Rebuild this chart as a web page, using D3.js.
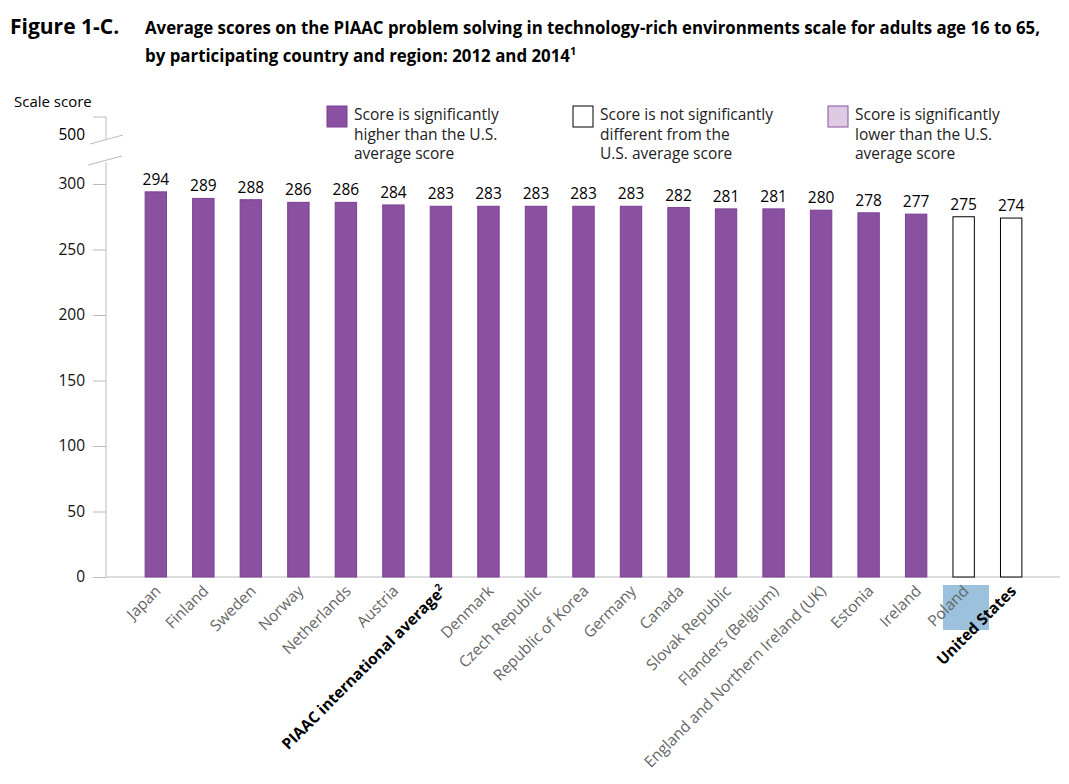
<!DOCTYPE html>
<html><head><meta charset="utf-8">
<script src="https://cdn.jsdelivr.net/npm/d3@7"></script>
<style>body{margin:0;background:#fff;font-family:"Open Sans",sans-serif;}</style>
</head><body>
<script>
// data
var countries = ["Japan","Finland","Sweden","Norway","Netherlands","Austria","PIAAC international average","Denmark","Czech Republic","Republic of Korea","Germany","Canada","Slovak Republic","Flanders (Belgium)","England and Northern Ireland (UK)","Estonia","Ireland","Poland","United States"];
var scores = [294,289,288,286,286,284,283,283,283,283,283,282,281,281,280,278,277,275,274];
// H = significantly higher, N = not significantly different
var significance = ["H","H","H","H","H","H","H","H","H","H","H","H","H","H","H","H","H","N","N"];
var yTicks = [0,50,100,150,200,250,300];

var data = countries.map(function (c, i) { return { name: c, score: scores[i], sig: significance[i] }; });

var svg = d3.select("body").append("svg").attr("width", 1069).attr("height", 784);

svg.append("text").attr("x", 10).attr("y", 34).style("font-size", "21px").style("font-weight", "bold")
    .text("Figure 1-C.");
svg.append("text").attr("x", 145).attr("y", 34).style("font-size", "18px").style("font-weight", "bold")
    .attr("textLength", 895).attr("lengthAdjust", "spacingAndGlyphs")
    .text("Average scores on the PIAAC problem solving in technology-rich environments scale for adults age 16 to 65,");
var t2 = svg.append("text").attr("x", 145).attr("y", 62).style("font-size", "18px").style("font-weight", "bold");
t2.append("tspan").attr("textLength", 425).attr("lengthAdjust", "spacingAndGlyphs")
    .text("by participating country and region: 2012 and 2014");
t2.append("tspan").attr("dy", -7).style("font-size", "11px").text("1");

var x = d3.scaleBand().domain(countries).range([119, 1048]).padding(0.55);
var y = d3.scaleLinear().domain([0, 300]).range([577, 184]);

// y axis
svg.append("text").attr("x", 14).attr("y", 107).style("font-size", "15px").text("Scale score");
var ax = svg.append("g").attr("transform", "translate(106,0)")
    .call(d3.axisLeft(y).tickValues(yTicks).tickSize(13).tickPadding(8));
ax.select(".domain").attr("d", "M0,577V172");
ax.selectAll("line").attr("stroke", "#bbb");
ax.select(".domain").attr("stroke", "#bbb");
ax.selectAll("text").style("font-size", "15.5px").style("font-family", "'Open Sans',sans-serif").attr("fill", "#111");
// break part with 500
svg.append("path").attr("d", "M93,117H106V140").attr("fill", "none").attr("stroke", "#bbb");
svg.append("text").attr("x", 85).attr("y", 140).attr("text-anchor", "end").style("font-size", "15.5px").text("500");
svg.append("line").attr("x1", 90).attr("y1", 144).attr("x2", 123).attr("y2", 135).attr("stroke", "#bbb");
svg.append("line").attr("x1", 88).attr("y1", 165).attr("x2", 122).attr("y2", 156).attr("stroke", "#bbb");
svg.append("line").attr("x1", 106).attr("y1", 162).attr("x2", 106).attr("y2", 172).attr("stroke", "#bbb");
// baseline
svg.append("line").attr("x1", 106).attr("x2", 1060).attr("y1", 577).attr("y2", 577).attr("stroke", "#bbb");

// bars
svg.selectAll(".bar").data(data).enter().append("rect")
    .attr("x", function (d) { return x(d.name); })
    .attr("y", function (d) { return y(d.score); })
    .attr("width", x.bandwidth())
    .attr("height", function (d) { return 577 - y(d.score); })
    .attr("fill", function (d) { return d.sig == "H" ? "#8951a0" : "#fff"; })
    .attr("stroke", function (d) { return d.sig == "H" ? "#7a3f92" : "#000"; });

svg.selectAll(".val").data(data).enter().append("text")
    .attr("x", function (d) { return x(d.name) + x.bandwidth() / 2; })
    .attr("y", function (d) { return y(d.score) - 7; })
    .attr("text-anchor", "middle").style("font-size", "15.5px")
    .text(function (d) { return d.score; });

// Poland highlight box
svg.append("rect").attr("x", x("Poland") - 10).attr("y", 585).attr("width", 46).attr("height", 45).attr("fill", "#9bc1dc");

// x labels
svg.selectAll(".xl").data(data).enter().append("text")
    .attr("transform", function (d) { return "translate(" + (x(d.name) + x.bandwidth() / 2 + 6) + ",592) rotate(-45)"; })
    .attr("text-anchor", "end")
    .style("font-size", "15.5px")
    .style("font-weight", function (d) { return (d.name == "United States" || d.name.indexOf("PIAAC") == 0) ? "bold" : "normal"; })
    .attr("fill", function (d) { return (d.name == "United States" || d.name.indexOf("PIAAC") == 0) ? "#000" : "#666"; })
    .each(function (d) {
        var t = d3.select(this).text(d.name);
        if (d.name.indexOf("PIAAC") == 0) t.append("tspan").attr("dy", -6).style("font-size", "10px").text("2");
    });

// legend
var legend = [
    { fill: "#8951a0", stroke: "#7a3f92", x: 327, lines: ["Score is significantly", "higher than the U.S.", "average score"] },
    { fill: "#fff", stroke: "#000", x: 573, lines: ["Score is not significantly", "different from the", "U.S. average score"] },
    { fill: "#dccbe3", stroke: "#8951a0", x: 828, lines: ["Score is significantly", "lower than the U.S.", "average score"] }
];
var lg = svg.selectAll(".lg").data(legend).enter().append("g");
lg.append("rect").attr("x", function (d) { return d.x; }).attr("y", 106).attr("width", 20).attr("height", 21)
    .attr("fill", function (d) { return d.fill; }).attr("stroke", function (d) { return d.stroke; });
lg.each(function (d) {
    var g = d3.select(this);
    d.lines.forEach(function (l, i) {
        g.append("text").attr("x", d.x + 27).attr("y", 120 + i * 19.5).style("font-size", "15.5px").attr("fill", "#222").text(l);
    });
});
</script>
</body></html>
